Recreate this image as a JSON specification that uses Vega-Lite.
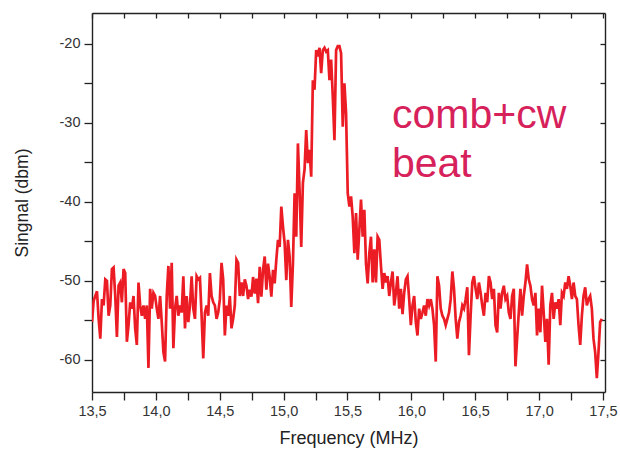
{
  "$schema": "https://vega.github.io/schema/vega-lite/v6.json",
  "width": 513,
  "height": 379,
  "autosize": {"type": "none"},
  "padding": {"left": 92, "top": 13, "right": 15, "bottom": 59},
  "background": "white",
  "config": {"view": {"stroke": null}, "font": "Liberation Sans"},
  "datasets": {
    "trace": [
      {"f":13.5,"s":-55.2},{"f":13.513,"s":-52.5},{"f":13.526,"s":-51.9},{"f":13.539,"s":-51.3},{"f":13.552,"s":-54.8},{"f":13.565,"s":-57.3},{"f":13.578,"s":-52.3},{"f":13.591,"s":-53.1},{"f":13.604,"s":-49.8},{"f":13.617,"s":-50},
      {"f":13.63,"s":-54.4},{"f":13.643,"s":-53.1},{"f":13.656,"s":-48.5},{"f":13.669,"s":-48.3},{"f":13.682,"s":-51.9},{"f":13.695,"s":-57.1},{"f":13.708,"s":-50.6},{"f":13.721,"s":-50.2},{"f":13.734,"s":-52.7},{"f":13.747,"s":-48.5},
      {"f":13.76,"s":-49},{"f":13.773,"s":-57.7},{"f":13.786,"s":-55.6},{"f":13.799,"s":-52.7},{"f":13.812,"s":-53.5},{"f":13.825,"s":-51.9},{"f":13.838,"s":-56},{"f":13.851,"s":-58.1},{"f":13.864,"s":-50.2},{"f":13.877,"s":-53.1},
      {"f":13.89,"s":-54.4},{"f":13.903,"s":-53.1},{"f":13.916,"s":-54.8},{"f":13.929,"s":-53.1},{"f":13.942,"s":-61},{"f":13.955,"s":-51},{"f":13.968,"s":-53.5},{"f":13.981,"s":-51.5},{"f":13.994,"s":-51.9},{"f":14.007,"s":-53.5},
      {"f":14.02,"s":-54.8},{"f":14.033,"s":-51.9},{"f":14.046,"s":-55.2},{"f":14.059,"s":-59},{"f":14.072,"s":-60.2},{"f":14.085,"s":-51.9},{"f":14.098,"s":-48.1},{"f":14.111,"s":-53.5},{"f":14.124,"s":-47.7},{"f":14.137,"s":-58.5},
      {"f":14.15,"s":-53.5},{"f":14.163,"s":-51.9},{"f":14.176,"s":-54.4},{"f":14.189,"s":-53.1},{"f":14.202,"s":-54},{"f":14.215,"s":-49.4},{"f":14.228,"s":-56},{"f":14.241,"s":-51.9},{"f":14.254,"s":-55.2},{"f":14.267,"s":-53.1},
      {"f":14.28,"s":-49.4},{"f":14.293,"s":-53.5},{"f":14.306,"s":-54.8},{"f":14.319,"s":-49.4},{"f":14.332,"s":-49.8},{"f":14.345,"s":-49.6},{"f":14.358,"s":-54.4},{"f":14.371,"s":-59.8},{"f":14.384,"s":-54},{"f":14.397,"s":-53.1},
      {"f":14.41,"s":-54.4},{"f":14.423,"s":-49},{"f":14.436,"s":-51.9},{"f":14.449,"s":-52.7},{"f":14.462,"s":-53.1},{"f":14.475,"s":-54.8},{"f":14.488,"s":-54},{"f":14.501,"s":-52.3},{"f":14.514,"s":-47.7},{"f":14.527,"s":-49.8},
      {"f":14.54,"s":-56.9},{"f":14.553,"s":-53.1},{"f":14.566,"s":-54.4},{"f":14.579,"s":-51.9},{"f":14.592,"s":-56},{"f":14.605,"s":-54.8},{"f":14.618,"s":-53.1},{"f":14.631,"s":-47.3},{"f":14.644,"s":-47.7},{"f":14.657,"s":-51.9},
      {"f":14.67,"s":-50.2},{"f":14.683,"s":-51.9},{"f":14.696,"s":-49.8},{"f":14.709,"s":-50.6},{"f":14.722,"s":-52.3},{"f":14.735,"s":-51.1},{"f":14.748,"s":-52},{"f":14.761,"s":-49.5},{"f":14.774,"s":-51.6},{"f":14.787,"s":-49.7},
      {"f":14.8,"s":-52.8},{"f":14.813,"s":-48.2},{"f":14.826,"s":-52},{"f":14.839,"s":-48.6},{"f":14.852,"s":-46.9},{"f":14.865,"s":-51.1},{"f":14.878,"s":-47.8},{"f":14.891,"s":-49.5},{"f":14.904,"s":-52},{"f":14.917,"s":-48.6},
      {"f":14.93,"s":-50.3},{"f":14.943,"s":-47.3},{"f":14.956,"s":-44.8},{"f":14.969,"s":-45.7},{"f":14.982,"s":-40.6},{"f":14.995,"s":-43.1},{"f":15.008,"s":-45.2},{"f":15.021,"s":-49.9},{"f":15.034,"s":-44.8},{"f":15.047,"s":-46.9},
      {"f":15.06,"s":-53.3},{"f":15.073,"s":-47.8},{"f":15.086,"s":-38.9},{"f":15.099,"s":-44.4},{"f":15.112,"s":-32.6},{"f":15.125,"s":-38.5},{"f":15.138,"s":-45.7},{"f":15.151,"s":-37.6},{"f":15.164,"s":-35.9},{"f":15.177,"s":-30.9},
      {"f":15.19,"s":-35.1},{"f":15.203,"s":-33.4},{"f":15.216,"s":-36.8},{"f":15.229,"s":-24.6},{"f":15.242,"s":-25.8},{"f":15.255,"s":-20.8},{"f":15.268,"s":-21.6},{"f":15.281,"s":-20.5},{"f":15.294,"s":-23.7},{"f":15.307,"s":-20.8},
      {"f":15.32,"s":-20.5},{"f":15.333,"s":-21},{"f":15.346,"s":-20.8},{"f":15.359,"s":-24.6},{"f":15.372,"s":-22},{"f":15.385,"s":-26.7},{"f":15.398,"s":-32.2},{"f":15.411,"s":-20.8},{"f":15.424,"s":-20.3},{"f":15.437,"s":-20.3},
      {"f":15.45,"s":-21.2},{"f":15.463,"s":-30.5},{"f":15.476,"s":-25},{"f":15.489,"s":-28.8},{"f":15.502,"s":-38.9},{"f":15.515,"s":-40.6},{"f":15.528,"s":-39.3},{"f":15.541,"s":-41.9},{"f":15.554,"s":-46.5},{"f":15.567,"s":-41.4},
      {"f":15.58,"s":-47.3},{"f":15.593,"s":-43.5},{"f":15.606,"s":-39.7},{"f":15.619,"s":-44.4},{"f":15.632,"s":-41},{"f":15.645,"s":-47.8},{"f":15.658,"s":-50.3},{"f":15.671,"s":-46.5},{"f":15.684,"s":-44.4},{"f":15.697,"s":-50.2},
      {"f":15.71,"s":-46},{"f":15.723,"s":-50.2},{"f":15.736,"s":-44.4},{"f":15.749,"s":-44.8},{"f":15.762,"s":-48.1},{"f":15.775,"s":-51},{"f":15.788,"s":-49},{"f":15.801,"s":-50.2},{"f":15.814,"s":-49.4},{"f":15.827,"s":-51.9},
      {"f":15.84,"s":-50.2},{"f":15.853,"s":-48.8},{"f":15.866,"s":-53.1},{"f":15.879,"s":-51.5},{"f":15.892,"s":-49.4},{"f":15.905,"s":-53.5},{"f":15.918,"s":-51},{"f":15.931,"s":-54.2},{"f":15.944,"s":-51.5},{"f":15.957,"s":-49.8},
      {"f":15.97,"s":-49.4},{"f":15.983,"s":-52.3},{"f":15.996,"s":-55.6},{"f":16.009,"s":-53.1},{"f":16.022,"s":-51.9},{"f":16.035,"s":-55.2},{"f":16.048,"s":-56.9},{"f":16.061,"s":-53.5},{"f":16.074,"s":-54.8},{"f":16.087,"s":-54},
      {"f":16.1,"s":-53.1},{"f":16.113,"s":-54.4},{"f":16.126,"s":-52.3},{"f":16.139,"s":-53.1},{"f":16.152,"s":-52.3},{"f":16.165,"s":-53.5},{"f":16.178,"s":-55.6},{"f":16.191,"s":-60.2},{"f":16.204,"s":-49.4},{"f":16.217,"s":-50.6},
      {"f":16.23,"s":-53.5},{"f":16.243,"s":-54.4},{"f":16.256,"s":-54.8},{"f":16.269,"s":-55.6},{"f":16.282,"s":-54.8},{"f":16.295,"s":-54},{"f":16.308,"s":-52.3},{"f":16.321,"s":-48.8},{"f":16.334,"s":-51},{"f":16.347,"s":-54.8},
      {"f":16.36,"s":-57.3},{"f":16.373,"s":-55.2},{"f":16.386,"s":-54.4},{"f":16.399,"s":-53.1},{"f":16.412,"s":-53.5},{"f":16.425,"s":-52.3},{"f":16.438,"s":-50.8},{"f":16.451,"s":-59.4},{"f":16.464,"s":-54.4},{"f":16.477,"s":-50.2},
      {"f":16.49,"s":-49.4},{"f":16.503,"s":-51},{"f":16.516,"s":-52.3},{"f":16.529,"s":-50.2},{"f":16.542,"s":-51.5},{"f":16.555,"s":-53.1},{"f":16.568,"s":-54.4},{"f":16.581,"s":-51.5},{"f":16.594,"s":-52.7},{"f":16.607,"s":-49.4},
      {"f":16.62,"s":-50.2},{"f":16.633,"s":-52.3},{"f":16.646,"s":-51},{"f":16.659,"s":-55.6},{"f":16.672,"s":-56.5},{"f":16.685,"s":-51.5},{"f":16.698,"s":-53.5},{"f":16.711,"s":-51.5},{"f":16.724,"s":-50.6},{"f":16.737,"s":-52.3},
      {"f":16.75,"s":-51.9},{"f":16.763,"s":-54},{"f":16.776,"s":-54.8},{"f":16.789,"s":-51.9},{"f":16.802,"s":-51},{"f":16.815,"s":-60.8},{"f":16.828,"s":-57.3},{"f":16.841,"s":-54},{"f":16.854,"s":-51},{"f":16.867,"s":-54.4},
      {"f":16.88,"s":-51.9},{"f":16.893,"s":-50.2},{"f":16.906,"s":-47.9},{"f":16.919,"s":-49.8},{"f":16.932,"s":-50.6},{"f":16.945,"s":-52.3},{"f":16.958,"s":-53.1},{"f":16.971,"s":-51.5},{"f":16.984,"s":-56.9},{"f":16.997,"s":-53.5},
      {"f":17.01,"s":-56.5},{"f":17.023,"s":-50.6},{"f":17.036,"s":-54},{"f":17.049,"s":-57.7},{"f":17.062,"s":-54.8},{"f":17.075,"s":-60.6},{"f":17.088,"s":-53.1},{"f":17.101,"s":-51.5},{"f":17.114,"s":-54.8},{"f":17.127,"s":-52.7},
      {"f":17.14,"s":-53.5},{"f":17.153,"s":-52.3},{"f":17.166,"s":-55.6},{"f":17.179,"s":-51.5},{"f":17.192,"s":-51.9},{"f":17.205,"s":-50.2},{"f":17.218,"s":-51},{"f":17.231,"s":-49.4},{"f":17.244,"s":-50.6},{"f":17.257,"s":-52.3},
      {"f":17.27,"s":-50.2},{"f":17.283,"s":-51.9},{"f":17.296,"s":-52.3},{"f":17.309,"s":-55.6},{"f":17.322,"s":-58.1},{"f":17.335,"s":-54.4},{"f":17.348,"s":-51.9},{"f":17.361,"s":-50.8},{"f":17.374,"s":-53.1},{"f":17.387,"s":-52.3},
      {"f":17.4,"s":-51.9},{"f":17.413,"s":-53.5},{"f":17.426,"s":-57.3},{"f":17.439,"s":-59},{"f":17.452,"s":-62.3},{"f":17.465,"s":-59},{"f":17.478,"s":-55.2},{"f":17.491,"s":-54.8}
    ]
  },
  "layer": [
    {
      "data": {"name": "trace"},
      "mark": {"type": "line", "color": "#ec1c24", "strokeWidth": 2.7, "clip": true},
      "encoding": {
        "x": {
          "field": "f", "type": "quantitative",
          "scale": {"domain": [13.5, 17.516], "nice": false, "zero": false},
          "axis": {
            "title": "Frequency (MHz)",
            "values": [13.5,13.75,14,14.25,14.5,14.75,15,15.25,15.5,15.75,16,16.25,16.5,16.75,17,17.25,17.5],
            "labelExpr": "(datum.value*4)%2==0 ? replace(format(datum.value,'.1f'),'.',',') : ''",
            "grid": false, "tickSize": 8, "labelPadding": 4,
            "domainColor": "#222", "domainWidth": 1.4, "tickColor": "#222", "tickWidth": 1.3,
            "labelFontSize": 14.5, "labelColor": "#333", "labelFont": "Liberation Sans",
            "labelFlush": false, "labelOverlap": false,
            "titleFontSize": 18, "titleFontWeight": "normal", "titleColor": "#222", "titleFont": "Liberation Sans",
            "titleY": 46, "titleBaseline": "middle",
            "encode": {"ticks": {"update": {"y2": {"signal": "(datum.value*4)%2==0 ? 8 : 4"}}}}
          }
        },
        "y": {
          "field": "s", "type": "quantitative",
          "scale": {"domain": [-64.05, -16.1], "nice": false, "zero": false},
          "axis": {
            "title": "Singnal (dbm)",
            "values": [-60,-55,-50,-45,-40,-35,-30,-25,-20],
            "labelExpr": "datum.value%10==0 ? ('' + datum.value) : ''",
            "grid": false, "tickSize": 8, "labelPadding": 4,
            "domainColor": "#222", "domainWidth": 1.4, "tickColor": "#222", "tickWidth": 1.3,
            "labelFontSize": 14.5, "labelColor": "#333", "labelFont": "Liberation Sans",
            "labelFlush": false, "labelOverlap": false,
            "titleFontSize": 17.5, "titleFontWeight": "normal", "titleColor": "#222", "titleFont": "Liberation Sans",
            "titleX": -70, "titleBaseline": "middle",
            "encode": {"ticks": {"update": {"x2": {"signal": "datum.value%10==0 ? -8 : -4"}}}}
          }
        }
      }
    },
    {
      "data": {"name": "trace"},
      "mark": {"type": "line", "opacity": 0},
      "encoding": {
        "x": {
          "field": "f", "type": "quantitative",
          "scale": {"domain": [13.5, 17.516], "nice": false, "zero": false},
          "axis": {
            "orient": "top", "title": null, "labels": false, "grid": false,
            "values": [13.5,13.75,14,14.25,14.5,14.75,15,15.25,15.5,15.75,16,16.25,16.5,16.75,17,17.25,17.5],
            "tickSize": -5, "domainColor": "#222", "domainWidth": 1.4, "tickColor": "#222", "tickWidth": 1.3
          }
        },
        "y": {
          "field": "s", "type": "quantitative",
          "scale": {"domain": [-64.05, -16.1], "nice": false, "zero": false},
          "axis": {
            "orient": "right", "title": null, "labels": false, "grid": false,
            "values": [-60,-55,-50,-45,-40,-35,-30,-25,-20],
            "tickSize": -5, "domainColor": "#222", "domainWidth": 1.4, "tickColor": "#222", "tickWidth": 1.3
          }
        }
      }
    },
    {
      "data": {"values": [{"t": "comb+cw"}]},
      "mark": {"type": "text", "align": "left", "baseline": "alphabetic", "fontSize": 41, "color": "#d6215b", "font": "Liberation Sans"},
      "encoding": {
        "text": {"field": "t"},
        "x": {"datum": 15.848, "type": "quantitative", "axis": null},
        "y": {"datum": -30.67, "type": "quantitative", "axis": null}
      }
    },
    {
      "data": {"values": [{"t": "beat"}]},
      "mark": {"type": "text", "align": "left", "baseline": "alphabetic", "fontSize": 41, "color": "#d6215b", "font": "Liberation Sans"},
      "encoding": {
        "text": {"field": "t"},
        "x": {"datum": 15.848, "type": "quantitative", "axis": null},
        "y": {"datum": -36.8, "type": "quantitative", "axis": null}
      }
    }
  ],
  "resolve": {"axis": {"x": "independent", "y": "independent"}}
}
